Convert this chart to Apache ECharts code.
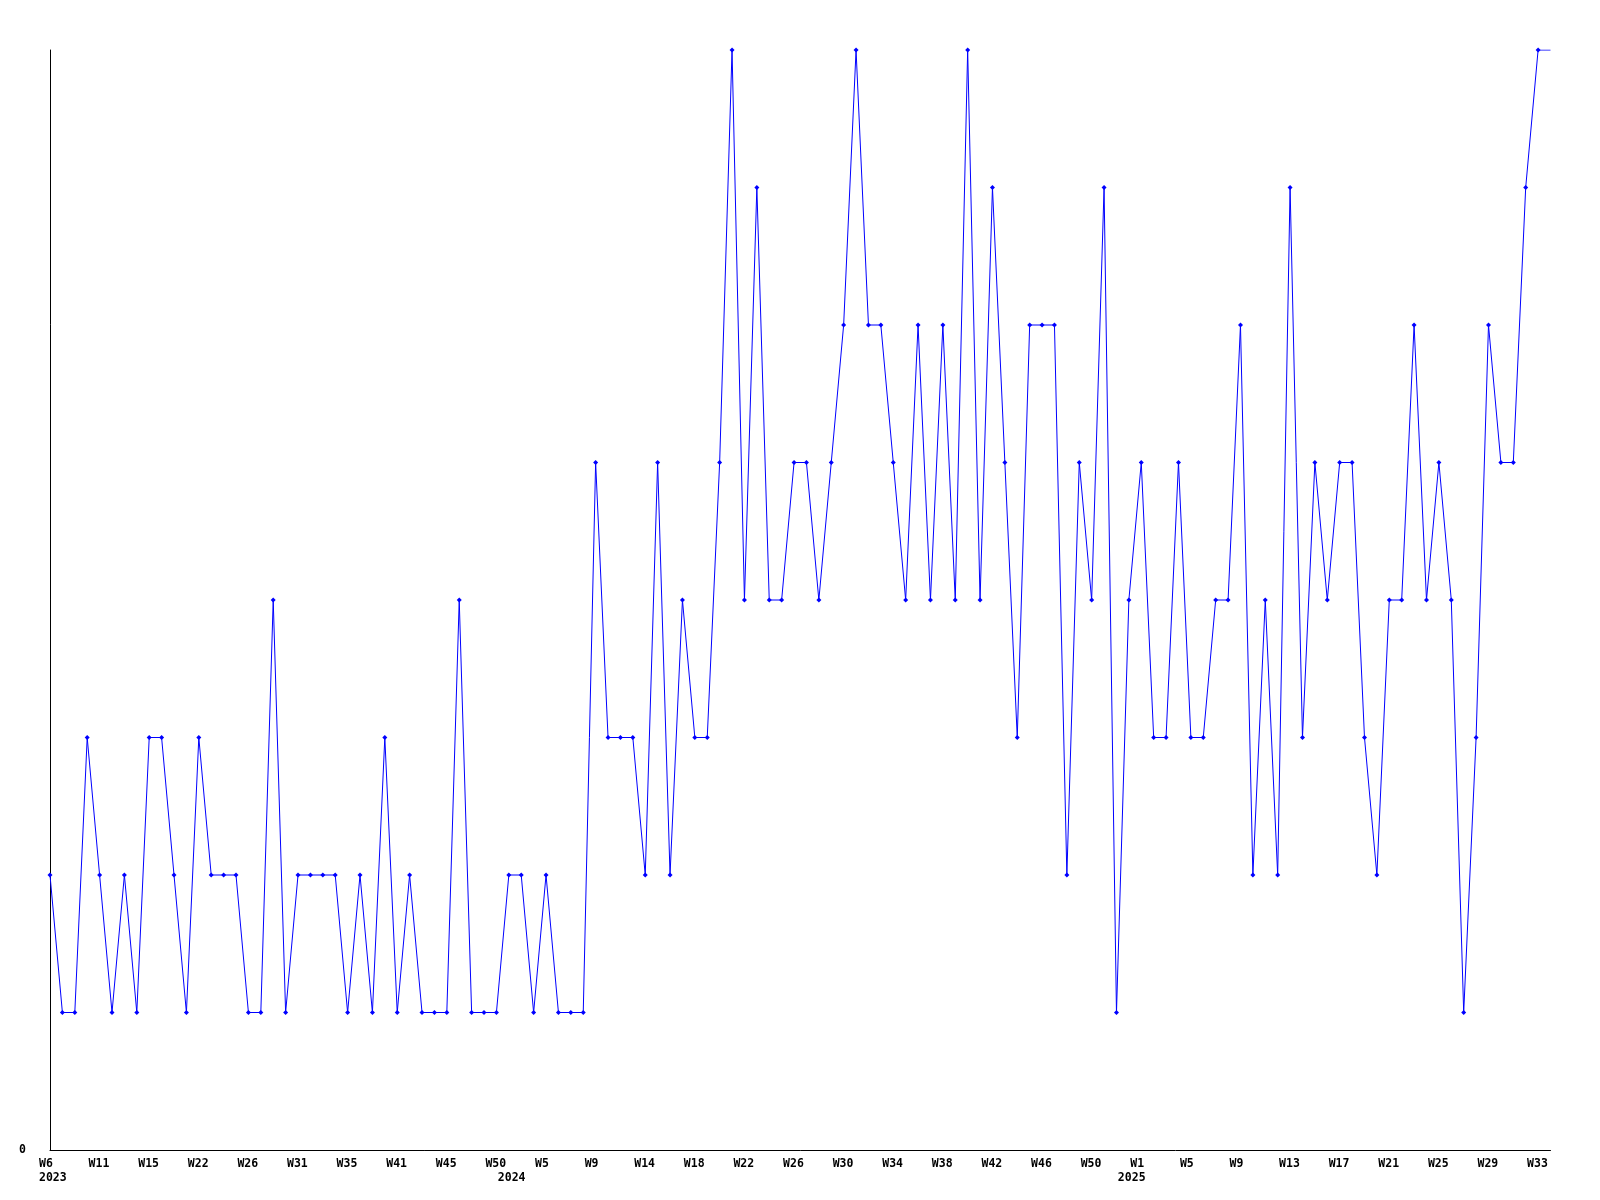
<!DOCTYPE html>
<html>
<head>
<meta charset="utf-8">
<script src="https://cdn.jsdelivr.net/npm/echarts@6/dist/echarts.min.js"></script>
<style>
html,body{margin:0;padding:0;background:#fff;}
#chart{width:1600px;height:1200px;}
</style>
</head>
<body>
<div id="chart"></div>
<script>
// Values per point (122 slots; the final slot is the open, still-running period)
const values = [
  2,1,1,3,2,1,2,1,3,3,
  2,1,3,2,2,2,1,1,4,1,
  2,2,2,2,1,2,1,3,1,2,
  1,1,1,4,1,1,1,2,2,1,
  2,1,1,1,5,3,3,3,2,5,
  2,4,3,3,5,8,4,7,4,4,
  5,5,4,5,6,8,6,6,5,4,
  6,4,6,4,8,4,7,5,3,6,
  6,6,2,5,4,7,1,4,5,3,
  3,5,3,3,4,4,6,2,4,2,
  7,3,5,4,5,5,3,2,4,4,
  6,4,5,4,1,3,6,5,5,7,
  8,8
];
// Week tick labels, one every 4th point
const weekLabels = ['W6','W11','W15','W22','W26','W31','W35','W41','W45','W50','W5',
  'W9','W14','W18','W22','W26','W30','W34','W38','W42','W46','W50','W1',
  'W5','W9','W13','W17','W21','W25','W29','W33'];
const weekStep = 4;
// Year labels and the point index where each appears
const yearLabels = ['2023','2024','2025'];
const yearIndex = [0, 37, 87];
// y-axis tick labels
const yTickLabels = ['0'];

const cats = values.map((v, i) => String(i));
const lastIdx = values.length - 1;
const seriesData = values.map((v, i) => i === lastIdx ? {value: v, symbol: 'none'} : v);

const FONT = 'DejaVu Sans Mono';
const chart = echarts.init(document.getElementById('chart'), null, {renderer: 'canvas'});
chart.setOption({
  animation: false,
  backgroundColor: '#ffffff',
  grid: {left: 50, right: 49.5, top: 50, bottom: 50, containLabel: false},
  xAxis: [{
    type: 'category',
    data: cats,
    boundaryGap: false,
    position: 'bottom',
    axisLine: {show: true, lineStyle: {color: '#000', width: 1}},
    axisTick: {show: false},
    splitLine: {show: false},
    axisLabel: {
      interval: 0,
      margin: 8,
      color: '#000',
      fontFamily: FONT,
      fontWeight: 'bold',
      fontSize: 11.5,
      formatter: function (val, idx) {
        if (idx % weekStep === 0 && weekLabels[idx / weekStep] !== undefined) {
          return '{a|' + weekLabels[idx / weekStep] + '}';
        }
        return '';
      },
      rich: {a: {width: 22, align: 'left', fontFamily: FONT, fontWeight: 'bold', fontSize: 11.5, color: '#000'}}
    }
  }, {
    type: 'category',
    data: cats,
    boundaryGap: false,
    position: 'bottom',
    offset: 14,
    axisLine: {show: false},
    axisTick: {show: false},
    splitLine: {show: false},
    axisLabel: {
      interval: 0,
      margin: 8,
      color: '#000',
      fontFamily: FONT,
      fontWeight: 'bold',
      fontSize: 11.5,
      formatter: function (val, idx) {
        const k = yearIndex.indexOf(idx);
        return k >= 0 ? '{a|' + yearLabels[k] + '}' : '';
      },
      rich: {a: {width: 22, align: 'left', fontFamily: FONT, fontWeight: 'bold', fontSize: 11.5, color: '#000'}}
    }
  }],
  yAxis: {
    type: 'value',
    min: 0,
    max: 8,
    interval: 8,
    axisLine: {show: true, lineStyle: {color: '#000', width: 1}},
    axisTick: {show: false},
    splitLine: {show: false},
    axisLabel: {
      margin: 24,
      color: '#000',
      fontFamily: FONT,
      fontWeight: 'bold',
      fontSize: 11.5,
      formatter: function (v) { return v === 0 ? yTickLabels[0] : ''; }
    }
  },
  series: [{
    type: 'line',
    xAxisIndex: 0,
    data: seriesData,
    symbol: 'diamond',
    symbolSize: 5,
    showAllSymbol: true,
    lineStyle: {color: '#0000ff', width: 1},
    itemStyle: {color: '#0000ff', borderWidth: 0},
    emphasis: {disabled: true}
  }]
});
</script>
</body>
</html>
